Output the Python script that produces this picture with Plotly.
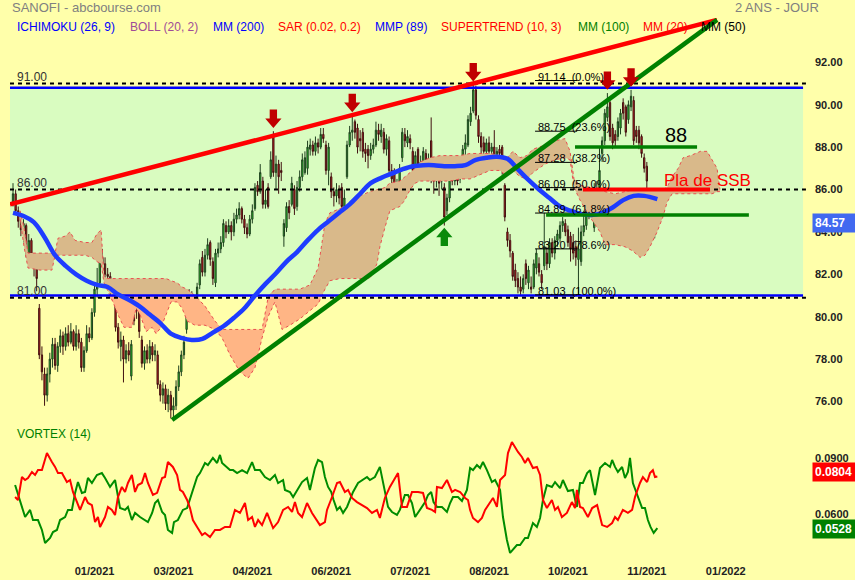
import plotly.graph_objects as go
import numpy as np

# ---------------- data ----------------
tick_bars = [31, 61, 91, 121, 151, 181, 211, 241, 271]
tick_labels = ["01/2021", "03/2021", "04/2021", "06/2021", "07/2021",
               "08/2021", "10/2021", "11/2021", "01/2022"]

opens = [85.4, 85.8, 85.0, 84.5, 84.1, 84.3, 83.0, 83.6, 82.8, 82.3,
         80.4, 78.2, 77.3, 76.3, 77.3, 78.0, 78.7, 77.7, 78.6, 79.1,
         78.6, 79.2, 78.8, 79.3, 78.6, 79.2, 78.8, 77.6, 78.4, 79.2,
         79.0, 80.2, 81.3, 81.6, 82.8, 82.5, 82.0, 81.9, 81.4, 80.9,
         79.5, 78.6, 78.9, 78.0, 78.4, 77.2, 80.2, 80.7, 80.6, 78.9,
         77.8, 78.4, 78.0, 78.6, 78.2, 78.2, 76.8, 76.3, 76.6, 75.9,
         76.3, 75.6, 75.8, 76.7, 77.4, 78.2, 79.4, 80.4, 81.0, 80.4,
         80.3, 81.5, 82.8, 82.1, 82.9, 83.5, 82.6, 81.6, 83.0, 83.2,
         83.5, 84.3, 84.0, 84.3, 84.0, 84.6, 84.8, 85.1, 84.6, 84.2,
         83.9, 84.6, 85.1, 86.2, 85.9, 86.4, 85.3, 86.1, 86.6, 88.5,
         86.8, 87.2, 86.9, 83.8, 84.2, 85.2, 85.3, 86.0, 85.2, 86.1,
         86.6, 86.8, 87.0, 87.9, 88.1, 87.8, 88.2, 88.0, 88.6, 88.1,
         86.9, 86.6, 85.9, 85.7, 86.0, 86.1, 85.2, 86.6, 88.1, 88.7,
         89.2, 88.9, 88.4, 88.7, 87.9, 87.9, 87.6, 87.9, 88.1, 88.8,
         88.5, 88.7, 87.9, 88.3, 86.9, 86.9, 85.7, 86.4, 87.5, 88.6,
         88.2, 88.4, 87.8, 86.9, 87.9, 86.6, 87.3, 87.7, 87.2, 88.3,
         86.6, 86.4, 87.0, 86.4, 86.1, 85.0, 85.6, 86.9, 86.4, 86.8,
         86.5, 86.9, 87.9, 88.1, 89.2, 89.7, 90.7, 89.3, 88.5, 88.2,
         87.8, 88.2, 87.8, 88.0, 87.6, 87.9, 88.0, 86.2, 84.0, 83.6,
         83.0, 82.2, 81.8, 81.4, 81.3, 82.5, 81.6, 81.4, 81.4, 82.3,
         82.5, 82.0, 82.4, 83.0, 82.5, 83.5, 83.0, 83.6, 83.7, 84.3,
         84.4, 84.1, 83.8, 83.5, 83.3, 82.7, 82.6, 84.0, 84.3, 85.5,
         85.2, 84.2, 85.8, 86.0, 87.7, 88.3, 89.4, 90.1, 88.9, 88.6,
         88.5, 88.9, 90.1, 89.9, 89.3, 89.9, 90.2, 88.8, 88.8, 88.5,
         87.5, 87.1, 85.5, 85.0, 84.5, 85.4]

closes = [85.8, 85.0, 84.5, 84.1, 84.4, 83.0, 83.6, 82.8, 82.3, 81.8,
          78.2, 77.4, 76.3, 77.3, 78.0, 78.7, 77.7, 78.6, 79.1, 78.6,
          79.2, 78.8, 79.3, 78.6, 79.2, 78.8, 77.6, 78.4, 79.2, 79.0,
          80.2, 81.3, 81.5, 82.8, 82.5, 82.0, 81.9, 81.4, 81.1, 79.5,
          78.8, 78.9, 78.0, 78.4, 78.2, 78.7, 79.8, 80.4, 79.3, 77.8,
          78.4, 78.0, 78.6, 78.2, 78.4, 76.8, 76.3, 76.6, 75.9, 76.3,
          75.6, 75.8, 76.7, 77.4, 78.2, 78.8, 80.4, 80.9, 80.4, 80.2,
          81.4, 82.5, 82.1, 82.9, 83.4, 82.7, 81.8, 83.0, 83.2, 83.5,
          84.4, 84.0, 84.3, 84.0, 84.6, 84.8, 85.1, 84.6, 84.2, 83.9,
          84.6, 85.0, 86.1, 85.9, 86.8, 85.3, 85.5, 85.2, 87.4, 86.8,
          87.2, 86.6, 86.8, 84.4, 85.2, 84.9, 86.3, 85.1, 86.1, 86.6,
          87.4, 87.5, 88.0, 88.1, 87.8, 88.2, 88.0, 88.6, 88.4, 86.9,
          88.0, 85.9, 85.7, 86.0, 85.6, 85.2, 85.6, 88.1, 88.7, 88.8,
          88.7, 88.0, 88.3, 87.8, 87.7, 87.6, 87.9, 88.1, 88.8, 88.6,
          88.8, 87.9, 88.4, 86.9, 86.5, 85.7, 86.2, 87.0, 88.7, 88.3,
          88.5, 88.2, 86.9, 87.6, 86.6, 87.3, 87.8, 87.2, 87.4, 86.5,
          86.4, 86.8, 86.3, 86.7, 84.7, 85.6, 86.6, 86.4, 86.8, 86.4,
          87.2, 87.9, 88.2, 89.3, 89.6, 90.7, 89.5, 88.5, 88.0, 87.8,
          88.2, 87.8, 88.0, 87.5, 87.8, 87.7, 86.9, 84.7, 83.6, 83.1,
          81.9, 81.7, 81.4, 81.2, 81.8, 81.8, 82.2, 81.3, 82.5, 83.0,
          82.1, 81.6, 83.3, 82.5, 83.5, 83.0, 83.6, 83.9, 84.3, 84.5,
          84.0, 83.5, 83.2, 83.0, 82.8, 83.2, 84.0, 84.3, 85.0, 84.9,
          84.9, 85.9, 86.0, 86.9, 88.3, 89.6, 89.9, 88.5, 88.2, 88.3,
          89.2, 89.6, 89.6, 88.7, 90.0, 90.4, 88.3, 88.5, 88.2, 87.7,
          87.0, 86.4, 84.4, 84.1, 85.5, 84.57]

highs = [86.3, 86.0, 85.2, 84.8, 84.6, 84.4, 83.9, 83.7, 83.0, 82.5,
         80.6, 78.6, 77.6, 77.6, 78.3, 79.0, 79.0, 78.8, 79.4, 79.3,
         79.5, 79.6, 79.7, 79.4, 79.6, 79.4, 79.0, 78.6, 79.6, 79.5,
         80.4, 81.5, 82.3, 84.0, 83.2, 82.8, 82.3, 82.1, 81.6, 81.0,
         79.7, 79.3, 79.1, 78.7, 78.8, 78.9, 81.5, 81.0, 80.8, 79.1,
         78.6, 78.7, 78.9, 78.8, 78.7, 78.4, 77.0, 76.9, 76.8, 76.6,
         76.5, 76.2, 77.0, 77.7, 78.4, 79.1, 80.8, 81.3, 81.2, 80.7,
         81.6, 82.7, 83.1, 83.2, 83.7, 83.6, 82.8, 83.2, 83.5, 83.8,
         84.6, 84.5, 84.6, 84.5, 84.9, 85.1, 85.4, 85.2, 84.8, 84.4,
         84.8, 85.3, 86.3, 86.4, 87.2, 86.6, 86.0, 86.3, 87.8, 88.75,
         87.6, 87.4, 87.3, 84.6, 85.4, 85.5, 86.6, 86.2, 86.4, 86.9,
         87.7, 87.8, 88.3, 88.4, 88.3, 88.5, 88.4, 88.9, 88.9, 88.3,
         88.2, 86.8, 86.1, 86.3, 86.2, 86.3, 86.0, 88.3, 89.0, 89.5,
         89.3, 89.1, 88.8, 88.9, 88.2, 88.1, 88.2, 88.4, 89.2, 89.1,
         89.1, 88.9, 88.6, 88.5, 87.2, 87.0, 86.5, 87.2, 88.9, 88.9,
         88.8, 88.6, 88.0, 87.8, 88.0, 87.6, 88.0, 87.9, 87.7, 89.4,
         87.4, 87.0, 87.2, 87.0, 86.3, 85.8, 86.8, 87.1, 87.0, 87.0,
         87.5, 88.1, 88.6, 89.5, 89.9, 90.95, 90.9, 89.5, 88.7, 88.5,
         88.4, 88.5, 88.2, 88.8, 88.0, 88.1, 88.1, 86.3, 84.2, 83.9,
         83.1, 82.5, 82.1, 81.9, 82.0, 82.7, 82.4, 81.9, 82.7, 83.2,
         82.8, 82.2, 84.9, 83.3, 83.7, 83.7, 83.8, 84.1, 84.5, 84.7,
         84.6, 84.3, 84.0, 83.9, 83.6, 84.2, 84.3, 85.0, 85.3, 85.7,
         85.4, 86.3, 86.4, 88.0, 88.5, 89.8, 90.55, 90.2, 89.1, 88.8,
         89.4, 89.8, 90.3, 90.0, 90.2, 90.7, 90.4, 89.0, 89.0, 88.6,
         87.7, 87.3, 85.7, 85.2, 85.7, 85.6]

lows = [85.2, 84.8, 84.2, 83.8, 83.5, 82.8, 82.7, 82.5, 81.9, 81.2,
        78.0, 77.0, 75.8, 76.0, 76.9, 77.6, 77.5, 77.4, 78.3, 78.2,
        78.4, 78.6, 78.7, 78.4, 78.4, 78.5, 77.4, 77.4, 78.3, 78.8,
        78.9, 80.0, 80.9, 81.5, 82.2, 81.7, 81.4, 81.0, 80.8, 79.3,
        78.5, 77.9, 76.9, 77.8, 77.9, 77.0, 79.6, 79.9, 79.0, 77.6,
        77.5, 77.8, 77.8, 77.9, 77.9, 76.6, 76.0, 75.9, 75.6, 75.5,
        75.2, 75.2, 75.6, 76.5, 77.2, 78.0, 79.2, 80.1, 80.1, 79.8,
        80.2, 81.3, 81.9, 81.9, 82.7, 82.4, 81.5, 81.4, 82.8, 83.0,
        83.3, 83.7, 83.9, 83.6, 83.8, 84.4, 84.6, 84.4, 83.9, 83.7,
        83.8, 84.4, 85.0, 85.7, 85.8, 85.1, 85.1, 85.1, 86.5, 86.6,
        86.0, 85.8, 86.4, 83.3, 84.0, 84.6, 85.2, 84.8, 85.0, 85.9,
        86.4, 86.7, 86.7, 87.6, 87.6, 87.6, 87.7, 87.9, 88.2, 86.7,
        86.2, 85.6, 85.2, 85.4, 85.3, 84.9, 85.0, 86.5, 88.0, 88.3,
        88.4, 87.7, 87.8, 87.5, 87.3, 87.0, 87.4, 87.7, 88.0, 88.3,
        88.2, 87.7, 87.6, 86.7, 86.2, 85.5, 85.4, 86.2, 87.3, 88.0,
        88.0, 87.9, 86.6, 86.7, 86.4, 86.4, 87.0, 86.9, 86.8, 86.3,
        85.8, 86.1, 85.7, 86.0, 84.3, 84.8, 85.4, 86.2, 86.2, 86.2,
        86.3, 86.8, 87.6, 88.0, 89.0, 89.6, 89.3, 88.2, 87.7, 87.5,
        87.5, 87.6, 87.5, 87.3, 87.3, 87.4, 86.7, 84.5, 83.3, 82.8,
        81.7, 81.4, 81.1, 81.03, 81.1, 81.5, 81.3, 81.1, 81.3, 82.0,
        81.9, 81.3, 82.2, 82.2, 82.3, 82.8, 82.7, 83.3, 83.5, 84.0,
        83.8, 83.3, 82.6, 82.7, 82.4, 81.0, 82.4, 83.8, 84.1, 84.6,
        84.7, 84.0, 85.5, 85.9, 87.3, 88.1, 89.2, 88.3, 87.9, 88.0,
        88.3, 88.6, 89.3, 88.5, 89.1, 89.7, 88.1, 88.2, 87.9, 87.5,
        86.8, 86.0, 84.1, 83.8, 83.7, 84.2]

# moving average (bar index, value)
ma_points = [(0, 84.9), (4, 84.75), (8, 84.45), (12, 83.75), (16, 82.9), (20, 82.4),
             (24, 82.0), (28, 81.7), (32, 81.5), (36, 81.4), (40, 81.05), (44, 80.8),
             (48, 80.5), (52, 80.1), (56, 79.7), (60, 79.2), (64, 79.0), (68, 78.9),
             (72, 78.95), (76, 79.25), (80, 79.55), (84, 79.95), (88, 80.4), (92, 81.0),
             (96, 81.55), (100, 82.05), (104, 82.6), (108, 83.05), (112, 83.6), (116, 84.1),
             (120, 84.5), (124, 84.9), (128, 85.3), (132, 85.8), (136, 86.3), (140, 86.55),
             (144, 86.75), (148, 86.95), (152, 87.1), (156, 87.15), (160, 87.15), (164, 87.1),
             (168, 87.1), (172, 87.15), (176, 87.4), (180, 87.5), (184, 87.55), (188, 87.45),
             (192, 86.95), (196, 86.45), (200, 86.0), (204, 85.6), (208, 85.2), (212, 85.0),
             (216, 84.85), (220, 84.8), (224, 84.9), (228, 85.15), (232, 85.5), (236, 85.7),
             (240, 85.7), (245, 85.55)]

# Ichimoku cloud (bar index, upper span, lower span)
cloud_points = [
    (2.7, 85.0, 84.6), (4.2, 84.2, 83.3), (5.7, 83.0, 82.3), (10.3, 83.0, 82.2), (14.8, 83.0, 82.2),
    (16.0, 83.0, 82.9), (17.1, 83.7, 82.9), (19.8, 83.8, 82.9), (21.7, 84.0, 82.9), (23.6, 83.6, 82.9),
    (27.4, 83.5, 82.9), (30.0, 83.5, 82.8), (31.9, 83.9, 82.6), (33.5, 84.1, 82.5), (34.6, 81.9, 81.6),
    (36.1, 81.8, 81.2), (38.0, 81.8, 80.7), (39.9, 81.8, 80.1), (42.2, 81.8, 79.5), (45.2, 81.8, 79.5),
    (46.8, 81.8, 80.4), (48.3, 81.8, 80.1), (50.6, 81.8, 79.3), (52.9, 81.8, 79.5), (54.4, 81.8, 79.2),
    (56.3, 81.8, 79.5), (58.2, 81.8, 80.1), (60.1, 81.7, 80.7), (62.4, 81.6, 80.7), (64.3, 81.4, 80.4),
    (66.2, 81.3, 79.8), (69.2, 81.0, 79.6), (73.0, 80.5, 79.6), (76.8, 79.8, 79.4), (79.5, 79.4, 79.0),
    (82.5, 79.4, 78.2), (86.3, 79.4, 77.4), (89.4, 79.4, 77.1), (92.0, 79.4, 77.6), (94.7, 79.4, 79.0),
    (97.0, 80.9, 80.0), (99.6, 81.3, 80.7), (102.3, 81.3, 79.4), (105.3, 81.3, 79.6), (109.1, 81.3, 79.9),
    (112.9, 81.5, 80.3), (116.0, 82.3, 80.6), (117.5, 83.5, 81.0), (118.6, 84.4, 81.3), (120.5, 84.9, 81.7),
    (124.3, 85.1, 81.8), (128.1, 85.3, 81.8), (131.9, 85.7, 81.8), (135.7, 85.9, 81.8), (138.4, 86.0, 82.5),
    (139.5, 86.0, 83.3), (141.4, 86.1, 84.2), (143.3, 86.3, 85.0), (147.1, 86.4, 85.2), (149.0, 86.6, 85.5),
    (151.0, 86.8, 86.0), (152.9, 87.0, 86.3), (154.8, 87.3, 86.4), (158.6, 87.5, 86.4), (162.4, 87.6, 86.4),
    (166.2, 87.6, 86.4), (170.0, 87.6, 86.5), (173.8, 87.7, 86.5), (177.6, 87.7, 86.7), (181.4, 87.7, 86.9),
    (185.2, 87.6, 86.9), (187.1, 87.4, 86.7), (190.1, 87.8, 86.9), (192.8, 87.5, 86.6), (195.4, 87.6, 86.5),
    (197.7, 87.9, 86.8), (202.3, 88.1, 87.2), (206.1, 88.3, 87.4), (209.9, 88.4, 87.5), (211.8, 87.8, 87.4),
    (213.3, 86.5, 86.1), (215.6, 86.2, 85.5), (219.4, 86.1, 84.7), (223.2, 86.0, 84.0), (225.1, 85.9, 83.4),
    (228.9, 85.8, 83.4), (232.7, 85.9, 83.3), (235.7, 86.0, 83.1), (238.4, 86.0, 82.8), (240.3, 86.0, 82.9),
    (242.2, 86.0, 83.3), (244.9, 86.0, 84.0), (247.1, 86.0, 84.7), (248.7, 86.1, 85.4), (250.6, 86.6, 85.8),
    (252.9, 87.0, 85.8), (254.8, 87.5, 85.8), (257.6, 87.6, 85.8), (261.4, 87.8, 85.8), (263.9, 87.8, 85.8),
    (265.8, 87.4, 85.8), (267.7, 87.0, 85.9), (268.8, 86.0, 85.9)]

# Vortex (14): VI+ (green) and VI- (red), (bar index, value)
vi_plus = [
    (0.8, .0758), (2.7, .0678), (4.6, .0587), (6.5, .0625), (7.6, .0571), (9.5, .0571), (11.0, .0518),
    (12.2, .0448), (14.1, .0475), (15.2, .0507), (16.7, .0518), (17.9, .0571), (19.8, .0587), (20.9, .0625),
    (22.4, .0625), (23.6, .0716), (24.7, .0774), (26.2, .0716), (27.4, .0721), (28.5, .0796), (30.0, .0769),
    (31.9, .0812), (33.8, .0822), (35.0, .0796), (36.9, .0748), (38.8, .0785), (39.9, .0705), (40.7, .0635),
    (42.6, .0625), (43.7, .0641), (45.2, .0571), (46.4, .0609), (48.3, .0587), (50.2, .0571), (51.3, .0560),
    (52.9, .0609), (54.0, .0662), (55.1, .0678), (56.7, .0614), (57.8, .0598), (58.9, .0518), (60.5, .0502),
    (61.2, .0560), (62.7, .0571), (64.6, .0625), (66.2, .0635), (68.1, .0716), (70.0, .0801), (71.1, .0822),
    (73.0, .0876), (74.1, .0865), (76.0, .0903), (77.6, .0876), (78.7, .0919), (79.5, .0876), (81.4, .0855),
    (82.5, .0838), (83.7, .0838), (85.2, .0822), (87.1, .0838), (89.0, .0822), (90.9, .0881), (92.0, .0838),
    (93.9, .0838), (95.8, .0801), (97.7, .0785), (99.6, .0812), (100.8, .0769), (102.7, .0785), (103.4, .0732),
    (105.3, .0721), (106.5, .0694), (108.0, .0732), (109.9, .0774), (111.8, .0796), (112.9, .0732), (114.8, .0849),
    (116.0, .0892), (117.5, .0881), (118.6, .0801), (119.8, .0748), (121.0, .0721), (121.9, .0678), (123.2, .0625),
    (124.3, .0641), (125.5, .0609), (127.0, .0641), (128.1, .0678), (129.3, .0721), (131.2, .0769), (133.1, .0785),
    (134.6, .0801), (135.7, .0785), (137.6, .0801), (139.5, .0855), (140.7, .0769), (142.6, .0641), (144.1, .0614),
    (146.0, .0598), (147.1, .0625), (149.0, .0705), (150.2, .0705), (151.7, .0662), (152.9, .0587), (154.8, .0625),
    (156.7, .0667), (157.8, .0705), (159.0, .0721), (159.9, .0667), (161.2, .0641), (163.1, .0641), (165.0, .0614),
    (166.2, .0662), (167.3, .0694), (169.2, .0694), (170.7, .0673), (172.6, .0732), (173.8, .0849), (174.9, .0838),
    (176.4, .0865), (177.6, .0849), (178.7, .0881), (180.2, .0838), (182.1, .0774), (183.3, .0785), (185.2, .0732),
    (186.3, .0587), (187.8, .0464), (189.0, .0395), (190.1, .0411), (191.6, .0437), (192.8, .0437), (194.7, .0475),
    (195.8, .0475), (197.7, .0555), (199.2, .0534), (200.4, .0582), (201.5, .0678), (203.0, .0758), (204.9, .0748),
    (206.1, .0774), (208.0, .0742), (209.1, .0785), (211.0, .0726), (212.9, .0732), (214.4, .0641), (215.6, .0769),
    (216.7, .0769), (218.3, .0822), (219.4, .0838), (220.5, .0748), (221.3, .0705), (223.2, .0849), (225.1, .0876),
    (227.0, .0855), (227.8, .0892), (228.9, .0855), (230.0, .0828), (231.6, .0855), (232.7, .0796), (233.8, .0828),
    (234.6, .0903), (235.7, .0769), (237.6, .0694), (239.2, .0635), (240.3, .0635), (241.4, .0571), (242.4, .0534),
    (243.6, .0502), (245.0, .0528)]

vi_minus = [
    (0.8, .0694), (1.9, .0678), (3.4, .0801), (4.6, .0785), (5.7, .0796), (7.2, .0828), (8.4, .0812),
    (9.5, .0838), (11.0, .0838), (12.9, .0929), (14.8, .0881), (16.0, .0855), (17.1, .0822), (18.6, .0822),
    (20.5, .0774), (21.7, .0785), (22.8, .0721), (24.3, .0667), (25.5, .0625), (27.4, .0694), (28.5, .0662),
    (30.0, .0651), (31.2, .0560), (32.3, .0587), (33.1, .0534), (35.0, .0587), (36.1, .0641), (37.6, .0625),
    (38.8, .0598), (39.9, .0694), (41.4, .0748), (42.6, .0721), (43.7, .0769), (45.2, .0812), (46.4, .0721),
    (47.5, .0758), (49.0, .0769), (50.2, .0822), (51.3, .0769), (53.2, .0705), (54.8, .0716), (56.7, .0796),
    (57.8, .0801), (58.9, .0881), (60.8, .0855), (62.4, .0812), (63.5, .0732), (64.6, .0721), (66.2, .0678),
    (67.3, .0635), (68.4, .0571), (70.0, .0534), (71.9, .0491), (73.0, .0502), (74.9, .0480), (76.8, .0518),
    (78.7, .0518), (80.6, .0534), (82.5, .0534), (84.4, .0625), (86.3, .0609), (88.2, .0662), (89.4, .0571),
    (90.9, .0587), (92.0, .0534), (93.2, .0571), (94.7, .0544), (96.6, .0609), (97.7, .0571), (98.9, .0528),
    (100.8, .0560), (102.7, .0625), (104.6, .0641), (106.1, .0614), (107.2, .0667), (108.4, .0609), (109.9, .0587),
    (111.8, .0662), (113.7, .0609), (114.8, .0587), (116.7, .0544), (118.6, .0560), (119.4, .0625), (121.3, .0694),
    (123.2, .0769), (124.3, .0774), (126.2, .0721), (127.4, .0732), (128.9, .0689), (130.8, .0667), (132.7, .0651),
    (134.6, .0635), (136.5, .0609), (138.4, .0625), (139.5, .0582), (141.4, .0689), (143.3, .0748), (145.2, .0796),
    (146.4, .0822), (147.9, .0641), (149.8, .0641), (151.7, .0721), (154.0, .0721), (155.9, .0716), (157.4, .0635),
    (159.3, .0625), (160.5, .0614), (161.2, .0748), (163.1, .0742), (165.0, .0785), (166.9, .0721), (168.1, .0732),
    (170.0, .0721), (171.9, .0689), (173.0, .0678), (173.8, .0625), (174.9, .0582), (176.8, .0560), (178.3, .0582),
    (179.5, .0625), (181.4, .0667), (182.5, .0689), (184.0, .0641), (185.2, .0785), (187.1, .0812), (188.2, .0929),
    (189.7, .0988), (190.9, .0956), (192.0, .0935), (193.5, .0908), (194.7, .0876), (195.8, .0903), (197.7, .0849),
    (199.2, .0855), (200.4, .0812), (201.5, .0678), (203.0, .0635), (204.9, .0678), (206.1, .0625), (207.2, .0641),
    (208.7, .0587), (210.6, .0609), (212.5, .0667), (213.7, .0635), (214.4, .0732), (215.6, .0641), (216.7, .0635),
    (218.6, .0587), (220.2, .0635), (222.1, .0651), (224.0, .0544), (225.9, .0534), (227.8, .0555), (228.9, .0587),
    (230.0, .0571), (231.9, .0625), (233.8, .0609), (235.4, .0625), (236.5, .0694), (238.4, .0769), (239.5, .0801),
    (241.1, .0774), (242.2, .0822), (243.3, .0838), (244.1, .0801), (245.0, .0804)]

last_price = 84.57
vi_plus_last = 0.0528
vi_minus_last = 0.0804

# drawn annotations on the chart
zone_top, zone_bottom = 90.8, 81.0
dashed_levels = [91.0, 86.0, 80.9]
dashed_labels = ["91.00", "86.00", "81.00"]
fib_levels = [91.14, 88.75, 87.28, 86.09, 84.89, 83.20, 81.03]
fib_pcts = ["0.0%", "23.6%", "38.2%", "50.0%", "61.8%", "78.6%", "100.0%"]
fib_span = (198.5, 214.5)
red_trend = [(-1.14, 85.3), (267.7, 94.0)]
green_trend = [(60.5, 75.13), (267.7, 94.0)]
level_88 = (88.0, 213.7, 260.1)
level_ssb = (86.0, 216.7, 265.0)
level_support = (84.8, 202.7, 279.8)
down_arrow_bars = [99, 129, 175, 226, 235]
up_arrow_bars = [164]

legend_items = [("ICHIMOKU (26, 9)", "#0000FF", 15), ("BOLL (20, 2)", "#A04C98", 128),
                ("MM (200)", "#0000FF", 211), ("SAR (0.02, 0.2)", "#FF0000", 276),
                ("MMP (89)", "#0000FF", 373), ("SUPERTREND (10, 3)", "#FF0000", 439),
                ("MM (100)", "#008000", 576), ("MM (20)", "#FF0000", 641), ("MM (50)", "#000000", 699)]

# ---------------- layout geometry ----------------
W, H = 855, 580
L, R, T, B = 10, 47, 18, 23
PW, PH = W - L - R, H - T - B
FONT = "Arial, Liberation Sans, sans-serif"
BG = "#FFFFAA"


def px(x):
    return (x - L) / PW


def py(y):
    return (H - B - y) / PH


bars = list(range(len(closes)))
x_range = [-1.14, 302.28]
y_range = [74.94, 94.09]
v_range = [0.03733, 0.10417]

fig = go.Figure()

# Ichimoku cloud, split at the bottom of the green zone
c_idx = [p[0] for p in cloud_points]
c_top = np.array([p[1] for p in cloud_points])
c_bot = np.array([p[2] for p in cloud_points])
parts = [(np.maximum(c_bot, zone_bottom), np.maximum(c_top, zone_bottom), "#D9B98A"),
         (np.minimum(c_bot, zone_bottom), np.minimum(c_top, zone_bottom), "#FFB585")]
for lo, hi, col in parts:
    fig.add_trace(go.Scatter(x=c_idx, y=lo, mode="lines", line=dict(width=0), hoverinfo="skip",
                             showlegend=False))
    fig.add_trace(go.Scatter(x=c_idx, y=hi, mode="lines", line=dict(width=0), fill="tonexty",
                             fillcolor=col, hoverinfo="skip", showlegend=False))
for arr in (c_top, c_bot):
    fig.add_trace(go.Scatter(x=c_idx, y=arr, mode="lines",
                             line=dict(color="#E85050", width=1, dash="dot"),
                             hoverinfo="skip", showlegend=False))

# horizontal zone lines
xl, xr_zone, xr_dash = x_range[0], 300.4, 301.5
for lvl in (zone_top, zone_bottom):
    fig.add_trace(go.Scatter(x=[xl, xr_zone], y=[lvl, lvl], mode="lines",
                             line=dict(color="#0000FF", width=2.5), hoverinfo="skip", showlegend=False))
for lvl in dashed_levels:
    fig.add_trace(go.Scatter(x=[xl, xr_dash], y=[lvl, lvl], mode="lines",
                             line=dict(color="#000000", width=2, dash="4px,4px"),
                             hoverinfo="skip", showlegend=False))

# fibonacci lines
for lvl in fib_levels:
    fig.add_trace(go.Scatter(x=list(fib_span), y=[lvl, lvl], mode="lines",
                             line=dict(color="#000000", width=1), hoverinfo="skip", showlegend=False))

# candles
fig.add_trace(go.Candlestick(
    x=bars, open=opens, high=highs, low=lows, close=closes,
    increasing=dict(fillcolor="#22E022", line=dict(color="#1F3F1F", width=1)),
    decreasing=dict(fillcolor="#D82020", line=dict(color="#401010", width=1)),
    whiskerwidth=0, hoverinfo="skip", showlegend=False))

# blue moving average
fig.add_trace(go.Scatter(x=[p[0] for p in ma_points], y=[p[1] for p in ma_points], mode="lines",
                         line=dict(color="#1E3CFF", width=4.5, shape="spline"),
                         hoverinfo="skip", showlegend=False))

# horizontal drawn levels
for (lvl, a, b), col, wd in [(level_88, "#008000", 3.5), (level_ssb, "#FF0000", 4),
                             (level_support, "#008000", 3.5)]:
    fig.add_trace(go.Scatter(x=[a, b], y=[lvl, lvl], mode="lines", line=dict(color=col, width=wd),
                             hoverinfo="skip", showlegend=False))

# trend lines
for pts, col in [(red_trend, "#FF0000"), (green_trend, "#008000")]:
    fig.add_trace(go.Scatter(x=[p[0] for p in pts], y=[p[1] for p in pts], mode="lines",
                             line=dict(color=col, width=4.5), hoverinfo="skip", showlegend=False))

# vortex
for pts, col in [(vi_plus, "#008C00"), (vi_minus, "#FF0000")]:
    fig.add_trace(go.Scatter(x=[p[0] for p in pts], y=[p[1] for p in pts], mode="lines",
                             line=dict(color=col, width=2), yaxis="y2",
                             hoverinfo="skip", showlegend=False))

# ---------------- shapes ----------------
shapes = [dict(type="rect", xref="x", yref="y", x0=xl, x1=xr_zone, y0=zone_bottom, y1=zone_top,
               fillcolor="#D9FCC0", line=dict(width=0), layer="below")]

hw, sw, hh, sh = 3.1, 1.4, 0.45, 0.42
for b in down_arrow_bars:
    t = highs[b] + 0.15
    path = (f"M {b},{t} L {b - hw},{t + hh} L {b - sw},{t + hh} L {b - sw},{t + hh + sh} "
            f"L {b + sw},{t + hh + sh} L {b + sw},{t + hh} L {b + hw},{t + hh} Z")
    shapes.append(dict(type="path", path=path, xref="x", yref="y", fillcolor="#C00000",
                       line=dict(width=0)))
for b in up_arrow_bars:
    t = lows[b] - 0.1
    path = (f"M {b},{t} L {b - hw},{t - hh} L {b - sw},{t - hh} L {b - sw},{t - hh - sh} "
            f"L {b + sw},{t - hh - sh} L {b + sw},{t - hh} L {b + hw},{t - hh} Z")
    shapes.append(dict(type="path", path=path, xref="x", yref="y", fillcolor="#0A8A0A",
                       line=dict(width=0)))

# ---------------- annotations ----------------
ann = []
ann.append(dict(text="SANOFI - abcbourse.com", x=px(10), y=py(8), xref="paper", yref="paper",
                xanchor="left", yanchor="middle", showarrow=False,
                font=dict(family=FONT, size=13, color="#808080")))
ann.append(dict(text="2 ANS - JOUR", x=px(733), y=py(8), xref="paper", yref="paper",
                xanchor="left", yanchor="middle", showarrow=False,
                font=dict(family=FONT, size=13, color="#808080")))
for txt, col, xp in legend_items:
    ann.append(dict(text=txt, x=px(xp), y=py(27), xref="paper", yref="paper", xanchor="left",
                    yanchor="middle", showarrow=False, font=dict(family=FONT, size=12, color=col)))
ann.append(dict(text="VORTEX (14)", x=px(15), y=py(434), xref="paper", yref="paper",
                xanchor="left", yanchor="middle", showarrow=False,
                font=dict(family=FONT, size=12, color="#008000")))
for lvl, txt in zip(dashed_levels, dashed_labels):
    ann.append(dict(text=txt, x=px(15), y=lvl, xref="paper", yref="y", xanchor="left",
                    yanchor="bottom", yshift=-2, showarrow=False,
                    font=dict(family=FONT, size=12, color="#333333")))
for lvl, pct in zip(fib_levels, fib_pcts):
    ann.append(dict(text=f"{lvl:.2f}&nbsp;&nbsp;({pct})", x=fib_span[0] + 0.3, y=lvl, xref="x",
                    yref="y", xanchor="left", yanchor="bottom", yshift=-4, showarrow=False,
                    font=dict(family=FONT, size=11, color="#000000")))
ann.append(dict(text="88", x=252.1, y=level_88[0], xref="x", yref="y", xanchor="center",
                yanchor="bottom", yshift=-1, showarrow=False,
                font=dict(family=FONT, size=20, color="#000000")))
ann.append(dict(text="Pla de SSB", x=246.8, y=level_ssb[0], xref="x", yref="y", xanchor="left",
                yanchor="bottom", yshift=-2, showarrow=False,
                font=dict(family=FONT, size=17, color="#FF0000")))
for val, fmt, col, yref, ys in [(last_price, "{:.2f}", "#4169F0", "y", -3),
                                (vi_minus_last, "{:.4f}", "#FF0000", "y2", 4),
                                (vi_plus_last, "{:.4f}", "#008000", "y2", -1)]:
    ann.append(dict(text="<b>" + fmt.format(val) + "</b>", x=1, y=val, xref="paper", yref=yref,
                    xanchor="left", yanchor="middle", xshift=4, yshift=ys, showarrow=False,
                    bgcolor=col, borderpad=2, width=39, align="left",
                    font=dict(family=FONT, size=12, color="#FFFFFF")))

fig.update_layout(
    width=W, height=H, margin=dict(l=L, r=R, t=T, b=B, autoexpand=False),
    paper_bgcolor=BG, plot_bgcolor=BG, showlegend=False, hovermode=False,
    shapes=shapes, annotations=ann,
    xaxis=dict(domain=[0, 1], range=x_range, anchor="y2", tickvals=tick_bars, ticktext=tick_labels,
               showgrid=False, zeroline=False, showline=False, ticks="", automargin=False,
               tickfont=dict(family=FONT, size=11, color="#222222", weight="bold"),
               ticklabelstandoff=6, rangeslider=dict(visible=False)),
    yaxis=dict(domain=[py(424), 1], range=y_range, side="right", anchor="x", automargin=False,
               tickvals=[76, 78, 80, 82, 84, 86, 88, 90, 92], tickformat=".2f",
               showgrid=False, zeroline=False, showline=False, ticks="", ticklabelstandoff=6,
               tickfont=dict(family=FONT, size=11, color="#222222", weight="bold")),
    yaxis2=dict(domain=[0, py(432)], range=v_range, side="right", anchor="x", automargin=False,
                tickvals=[0.06, 0.09], tickformat=".4f",
                showgrid=False, zeroline=False, showline=False, ticks="", ticklabelstandoff=6,
                tickfont=dict(family=FONT, size=11, color="#222222", weight="bold")),
)

fig.write_html("out.html", config={"displayModeBar": False},
               post_script="document.body.style.margin='0';document.body.style.padding='0';"
                           "document.body.style.background='" + BG + "';")
